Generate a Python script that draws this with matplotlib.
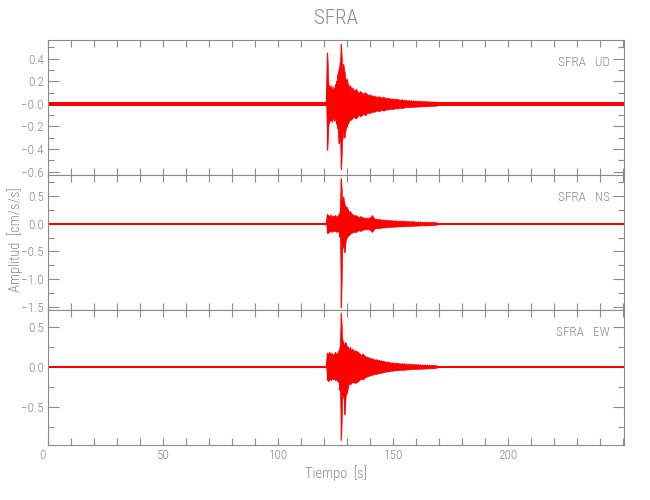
import numpy as np
import matplotlib
matplotlib.use("Agg")
import matplotlib.pyplot as plt
from matplotlib import font_manager
from matplotlib.transforms import ScaledTranslation
from matplotlib.ticker import MultipleLocator, FixedLocator

_avail = {f.name for f in font_manager.fontManager.ttflist}
_pref = ['Liberation Sans Narrow', 'DejaVu Sans Condensed', 'Roboto Condensed',
         'Open Sans Condensed', 'Roboto', 'DejaVu Sans']
_fam = [f for f in _pref if f in _avail] + ['DejaVu Sans']
plt.rcParams['font.family'] = _fam
_light = 'light' if _fam[0] in ('Roboto', 'Roboto Condensed') else 'normal'

# ---------------- data ----------------
station = "SFRA"
channels = ["UD", "NS", "EW"]
t_max = 250.3

# background noise half-width per channel
noise_amp = [0.016, 0.015, 0.012]

# envelope knots, 0.5 s steps around the strong motion
t_fine = [120.9, 121.4, 121.9, 122.4, 122.9, 123.4, 123.9, 124.4, 124.9, 125.4,
          125.9, 126.4, 126.9, 127.4, 127.9, 128.4, 128.9, 129.4, 129.9, 130.4,
          130.9, 131.4, 131.9, 132.4]
ud_hi = [0.016, 0.45, 0.17, 0.14, 0.16, 0.12, 0.15, 0.13, 0.17, 0.20,
         0.26, 0.30, 0.36, 0.53, 0.30, 0.35, 0.28, 0.20, 0.22, 0.17,
         0.15, 0.16, 0.13, 0.14]
ud_lo = [-0.016, -0.41, -0.18, -0.15, -0.14, -0.16, -0.12, -0.15, -0.14, -0.18,
         -0.22, -0.35, -0.30, -0.58, -0.32, -0.25, -0.30, -0.22, -0.20, -0.17,
         -0.15, -0.14, -0.14, -0.12]
ns_hi = [0.015, 0.17, 0.15, 0.13, 0.16, 0.12, 0.14, 0.13, 0.15, 0.12,
         0.14, 0.16, 0.22, 0.82, 0.40, 0.48, 0.35, 0.30, 0.30, 0.25,
         0.20, 0.22, 0.18, 0.17]
ns_lo = [-0.015, -0.17, -0.16, -0.14, -0.13, -0.15, -0.12, -0.14, -0.13, -0.15,
         -0.13, -0.15, -0.25, -1.52, -0.45, -0.40, -0.52, -0.30, -0.25, -0.22,
         -0.20, -0.18, -0.17, -0.15]
ew_hi = [0.012, 0.17, 0.16, 0.18, 0.15, 0.17, 0.14, 0.16, 0.18, 0.15,
         0.17, 0.20, 0.25, 0.67, 0.35, 0.30, 0.27, 0.30, 0.25, 0.25,
         0.22, 0.24, 0.20, 0.22]
ew_lo = [-0.012, -0.17, -0.18, -0.15, -0.17, -0.14, -0.16, -0.15, -0.17, -0.16,
         -0.18, -0.20, -0.30, -0.92, -0.40, -0.35, -0.60, -0.35, -0.33, -0.25,
         -0.20, -0.22, -0.20, -0.19]

# coda half-width, 1 s steps
t_coda = [132.9, 133.9, 134.9, 135.9, 136.9, 137.9, 138.9, 139.9, 140.9, 141.9,
          142.9, 143.9, 144.9, 145.9, 146.9, 147.9, 148.9, 149.9, 150.9, 151.9,
          152.9, 153.9, 154.9, 155.9, 156.9, 157.9, 158.9, 159.9, 160.9, 161.9,
          162.9, 163.9, 164.9, 165.9, 166.9, 167.9, 168.9]
ud_coda = [0.12, 0.13, 0.10, 0.11, 0.09, 0.10, 0.08,
           0.08, 0.07, 0.07, 0.06, 0.065, 0.055, 0.06, 0.05, 0.05, 0.045,
           0.045, 0.04, 0.042, 0.035, 0.038, 0.032, 0.03, 0.03, 0.028, 0.027,
           0.025, 0.025, 0.023, 0.022, 0.022, 0.02, 0.02, 0.018, 0.018, 0.016]
ns_coda = [0.15, 0.15, 0.12, 0.13, 0.11, 0.10, 0.10,
           0.11, 0.15, 0.09, 0.08, 0.08, 0.07, 0.07, 0.065, 0.06, 0.06,
           0.055, 0.055, 0.05, 0.05, 0.05, 0.045, 0.045, 0.04, 0.04, 0.04,
           0.035, 0.035, 0.033, 0.03, 0.03, 0.03, 0.028, 0.027, 0.025, 0.02]
ew_coda = [0.20, 0.20, 0.18, 0.15, 0.16, 0.13, 0.12,
           0.11, 0.10, 0.09, 0.09, 0.08, 0.075, 0.07, 0.06, 0.06, 0.05,
           0.05, 0.045, 0.045, 0.04, 0.04, 0.038, 0.035, 0.033, 0.03, 0.03,
           0.028, 0.027, 0.025, 0.024, 0.023, 0.022, 0.02, 0.02, 0.018, 0.014]

his = [ud_hi, ns_hi, ew_hi]
los = [ud_lo, ns_lo, ew_lo]
codas = [ud_coda, ns_coda, ew_coda]

ylims = [(-0.63, 0.565), (-1.56, 0.88), (-0.98, 0.71)]
yticks = [[0.4, 0.2, 0.0, -0.2, -0.4, -0.6],
          [0.5, 0.0, -0.5, -1.0, -1.5],
          [0.5, 0.0, -0.5]]
yticklabels = [["0.4", "0.2", "\u22120.0", "\u22120.2", "\u22120.4", "\u22120.6"],
               ["0.5", "0.0", "\u22120.5", "\u22121.0", "\u22121.5"],
               ["0.5", "0.0", "\u22120.5"]]
yminor = [0.1, 0.25, 0.25]
xticks = [0, 50, 100, 150, 200]

# ---------------- figure ----------------
grey = "#8a8a8a"
fig = plt.figure(figsize=(6.5, 5.0), dpi=100)
left, right = 48 / 650, 624 / 650
top_px, panel_px = 40, 135
axes = []
for i in range(3):
    y0 = 1 - (top_px + (i + 1) * panel_px) / 500
    ax = fig.add_axes([left, y0, right - left, panel_px / 500])
    axes.append(ax)

red = "#ff0000"
for i, ax in enumerate(axes):
    # background noise band
    ax.fill_between([0, t_max], [-noise_amp[i]] * 2, [noise_amp[i]] * 2,
                    color=red, lw=0, zorder=2)
    # strong motion part
    tt = t_fine + t_coda
    hi = his[i] + codas[i]
    lo = los[i] + [-v for v in codas[i]]
    ax.fill_between(tt, lo, hi, color=red, lw=0.4, zorder=3)
    # zigzag texture through the same envelope
    zx, zy = [], []
    for t, h, l in zip(tt, hi, lo):
        zx += [t, t]
        zy += [h, l]
    ax.plot(zx, zy, color=red, lw=0.7, zorder=3)

    ax.set_xlim(0, t_max)
    ax.set_ylim(*ylims[i])
    ax.yaxis.set_major_locator(FixedLocator(yticks[i]))
    ax.set_yticklabels(yticklabels[i])
    ax.yaxis.set_minor_locator(MultipleLocator(yminor[i]))
    ax.xaxis.set_major_locator(FixedLocator(xticks))
    ax.xaxis.set_minor_locator(MultipleLocator(10))
    ax.tick_params(axis='both', which='both', direction='in', colors=grey,
                   top=True, right=True, width=0.8, labelsize=9.5, pad=3)
    ax.tick_params(axis='y', which='major', length=8)
    ax.tick_params(axis='y', which='minor', length=4)
    ax.tick_params(axis='x', which='major', length=5)
    ax.tick_params(axis='x', which='minor', length=5)
    for lab in ax.get_xticklabels() + ax.get_yticklabels():
        lab.set_fontweight(_light)
    for s in ax.spines.values():
        s.set_color(grey)
        s.set_linewidth(0.8)
    if i < 2:
        ax.set_xticklabels([])
    else:
        ax.set_xticklabels([str(v) for v in xticks], fontweight=_light)
    ax.text(0.975, 0.83, station + "   " + channels[i], transform=ax.transAxes,
            ha='right', va='center', color=grey, fontsize=9.5, fontweight=_light)

# the "0" label sits slightly left of its tick in the reference
_lab0 = axes[2].xaxis.get_major_ticks()[0].label1
_lab0.set_transform(_lab0.get_transform() +
                    ScaledTranslation(-6 / 100, 0, fig.dpi_scale_trans))

axes[2].set_xlabel("Tiempo  [s]", color=grey, fontsize=10.5, labelpad=2,
                   fontweight=_light)
fig.text(15 / 650, 1 - 240 / 500, "Amplitud  [cm/s/s]", rotation=90,
         ha='center', va='center', color=grey, fontsize=10.5, fontweight=_light)
fig.text(336 / 650, 1 - 18 / 500, station, ha='center', va='center',
         color=grey, fontsize=15, fontweight=_light)

fig.savefig("out.png", dpi=100, facecolor="white")
